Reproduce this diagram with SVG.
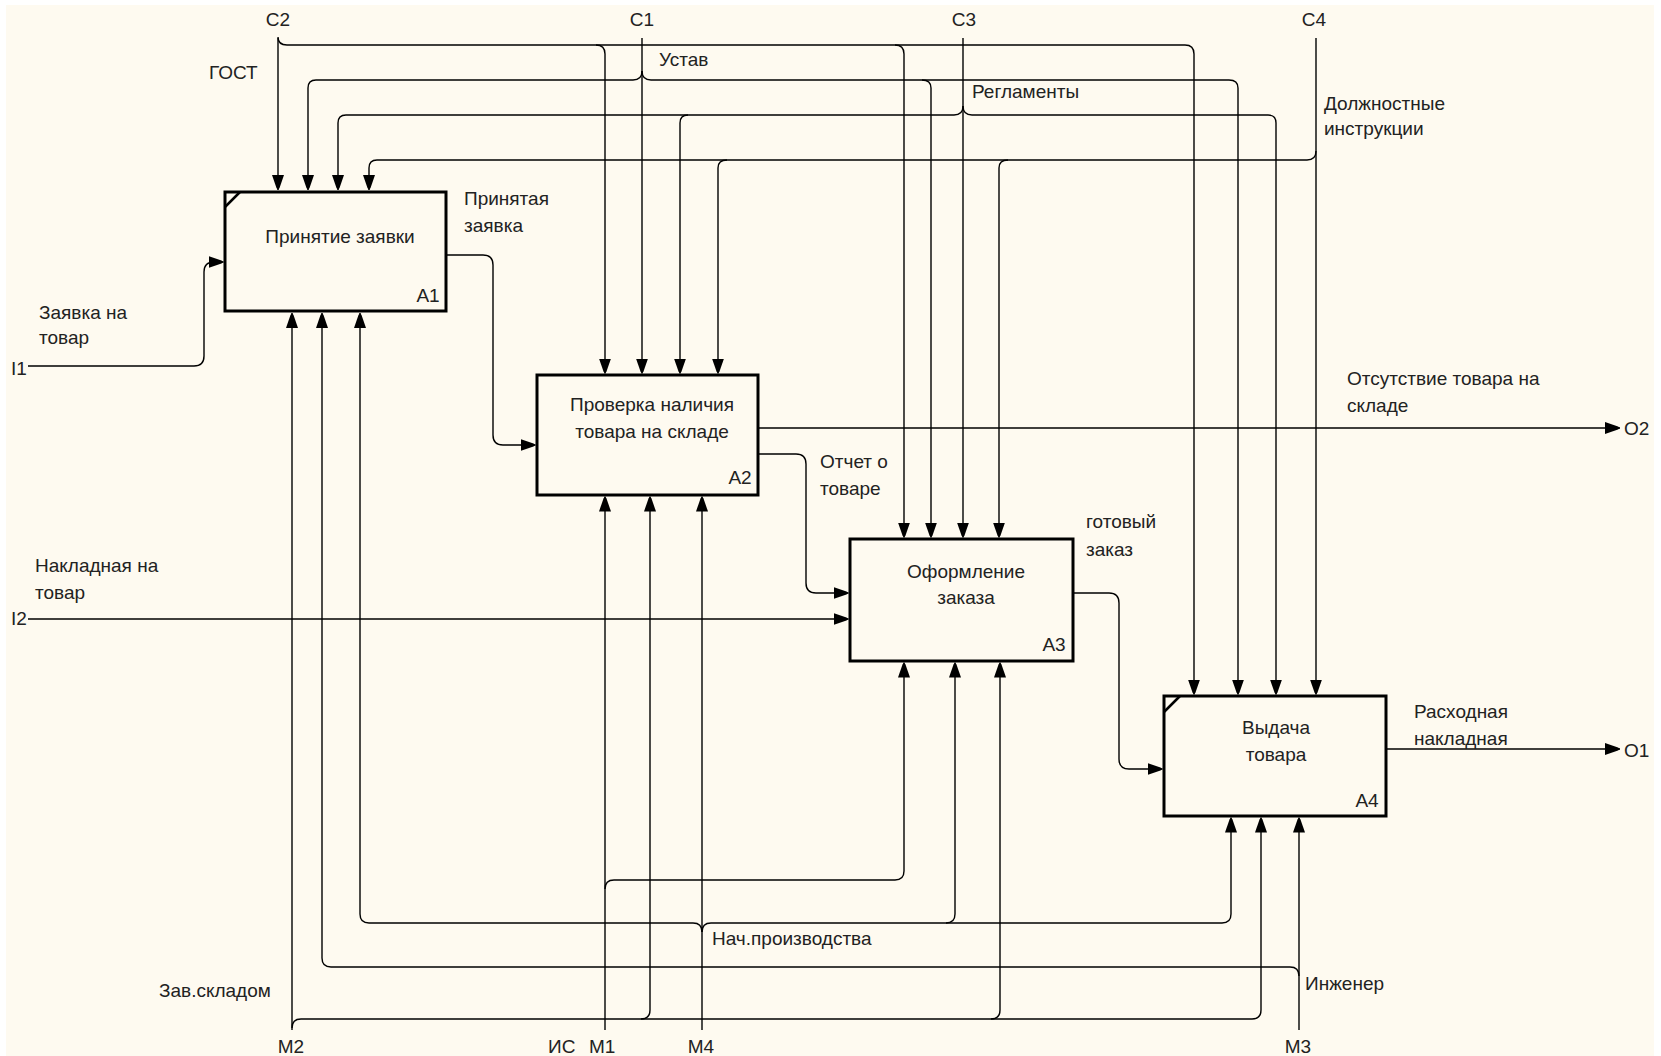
<svg xmlns="http://www.w3.org/2000/svg" width="1661" height="1056" viewBox="0 0 1661 1056">
<style>
.bg{fill:#fefaf0}
.box{fill:none;stroke:#000;stroke-width:3}
.tick{stroke:#000;stroke-width:2.5}
.ln{fill:none;stroke:#000;stroke-width:1.4}
.arr{marker-end:url(#ah)}
text{font-family:"Liberation Sans",Arial,sans-serif;font-size:19px;fill:#222}
.c{text-anchor:middle}
</style>
<defs>
<marker id="ah" markerUnits="userSpaceOnUse" markerWidth="15" markerHeight="13" refX="15" refY="6.5" orient="auto">
<path d="M0,0.5 L13,5 L15,6.5 L13,8 L0,12.5 z" fill="#000"/>
</marker>
</defs>
<rect x="0" y="0" width="1661" height="1056" fill="#fff"/>
<rect class="bg" x="6" y="5" width="1648" height="1051"/>

<g id="connectors">
<!-- C2 ГОСТ -->
<path class="ln arr" d="M278,38 V190"/>
<path class="ln arr" d="M278,37 Q278,45 287,45 H1185 Q1194,45 1194,54 V694.5"/>
<path class="ln arr" d="M596,45 Q605,45 605,54 V373.5"/>
<path class="ln arr" d="M895,45 Q904,45 904,54 V537.5"/>
<!-- C1 Устав -->
<path class="ln arr" d="M642,38 V373.5"/>
<path class="ln arr" d="M642,71 Q642,80 633,80 H316 Q308,80 308,88 V190"/>
<path class="ln arr" d="M642,71 Q642,80 651,80 H1229 Q1238,80 1238,88 V694.5"/>
<path class="ln arr" d="M922,80 Q931,80 931,88 V537.5"/>
<!-- C3 Регламенты -->
<path class="ln arr" d="M963,38 V537.5"/>
<path class="ln arr" d="M963,106 Q963,115 954,115 H346 Q338,115 338,123 V190"/>
<path class="ln arr" d="M963,106 Q963,115 972,115 H1268 Q1276,115 1276,123 V694.5"/>
<path class="ln arr" d="M688,115 Q680,115 680,123 V373.5"/>
<!-- C4 Должностные инструкции -->
<path class="ln arr" d="M1316,38 V694.5"/>
<path class="ln arr" d="M1316,151 Q1316,160 1307,160 H377 Q369,160 369,168 V190"/>
<path class="ln arr" d="M1008,160 Q999,160 999,168 V537.5"/>
<path class="ln arr" d="M727,160 Q718,160 718,168 V373.5"/>
<!-- M2 Зав.складом -->
<path class="ln arr" d="M292,1030 V313"/>
<path class="ln arr" d="M292,1028 Q292,1019 301,1019 H1252 Q1261,1019 1261,1010 V817.5"/>
<path class="ln arr" d="M641,1019 Q650,1019 650,1010 V496.5"/>
<path class="ln arr" d="M991,1019 Q1000,1019 1000,1010 V662.5"/>
<!-- M1 ИС -->
<path class="ln arr" d="M605,1030 V496.5"/>
<path class="ln arr" d="M605,889 Q605,880 614,880 H895 Q904,880 904,871 V662.5"/>
<!-- M4 Нач.производства -->
<path class="ln arr" d="M702,1030 V496.5"/>
<path class="ln arr" d="M702,932 Q702,923 693,923 H369 Q360,923 360,914 V313"/>
<path class="ln arr" d="M702,932 Q702,923 711,923 H1222 Q1231,923 1231,914 V817.5"/>
<path class="ln arr" d="M946,923 Q955,923 955,914 V662.5"/>
<!-- M3 Инженер -->
<path class="ln arr" d="M1299,1030 V817.5"/>
<path class="ln arr" d="M1299,976 Q1299,967 1290,967 H331 Q322,967 322,958 V313"/>
<!-- Inputs / outputs -->
<path class="ln arr" d="M28,366 H194 Q204,366 204,356 V272 Q204,262 214,262 H223.5"/>
<path class="ln arr" d="M28,619 H848.5"/>
<path class="ln arr" d="M446,255 H483 Q493,255 493,265 V435 Q493,445 503,445 H535.5"/>
<path class="ln arr" d="M758,454 H796 Q806,454 806,464 V583 Q806,593 816,593 H848.5"/>
<path class="ln arr" d="M758,428 H1620"/>
<path class="ln arr" d="M1073,593 H1109 Q1119,593 1119,603 V759 Q1119,769 1129,769 H1162.5"/>
<path class="ln arr" d="M1386,749 H1620"/>
</g>

<g id="A1">
<rect class="box" x="225" y="192" width="221" height="119"/>
<line class="tick" x1="225" y1="207" x2="240" y2="192"/>
<text class="c" x="340" y="243">Принятие заявки</text>
<text class="c" x="428" y="302">A1</text>
</g>
<g id="A2">
<rect class="box" x="537" y="375" width="221" height="120"/>
<text class="c" x="652" y="411">Проверка наличия</text>
<text class="c" x="652" y="438">товара на складе</text>
<text class="c" x="740" y="484">A2</text>
</g>
<g id="A3">
<rect class="box" x="850" y="539" width="223" height="122"/>
<text class="c" x="966" y="578">Оформление</text>
<text class="c" x="966" y="604">заказа</text>
<text class="c" x="1054" y="651">A3</text>
</g>
<g id="A4">
<rect class="box" x="1164" y="696" width="222" height="120"/>
<line class="tick" x1="1164" y1="712" x2="1180" y2="696"/>
<text class="c" x="1276" y="734">Выдача</text>
<text class="c" x="1276" y="761">товара</text>
<text class="c" x="1367" y="807">A4</text>
</g>

<g id="labels">
<text class="c" x="278" y="26">C2</text>
<text class="c" x="642" y="26">C1</text>
<text class="c" x="964" y="26">C3</text>
<text class="c" x="1314" y="26">C4</text>
<text x="209" y="79">ГОСТ</text>
<text x="659" y="66">Устав</text>
<text x="972" y="98">Регламенты</text>
<text x="1324" y="110">Должностные</text>
<text x="1324" y="135">инструкции</text>
<text x="464" y="205">Принятая</text>
<text x="464" y="232">заявка</text>
<text x="39" y="319">Заявка на</text>
<text x="39" y="344">товар</text>
<text x="11" y="375">I1</text>
<text x="35" y="572">Накладная на</text>
<text x="35" y="599">товар</text>
<text x="11" y="625">I2</text>
<text x="1347" y="385">Отсутствие товара на</text>
<text x="1347" y="412">складе</text>
<text x="1624" y="435">O2</text>
<text x="820" y="468">Отчет о</text>
<text x="820" y="495">товаре</text>
<text x="1086" y="528">готовый</text>
<text x="1086" y="556">заказ</text>
<text x="1414" y="718">Расходная</text>
<text x="1414" y="745">накладная</text>
<text x="1624" y="757">O1</text>
<text x="712" y="945">Нач.производства</text>
<text x="1305" y="990">Инженер</text>
<text x="159" y="997">Зав.складом</text>
<text class="c" x="291" y="1053">M2</text>
<text x="548" y="1053">ИС</text>
<text x="589" y="1053">M1</text>
<text class="c" x="701" y="1053">M4</text>
<text class="c" x="1298" y="1053">M3</text>
</g>
</svg>
